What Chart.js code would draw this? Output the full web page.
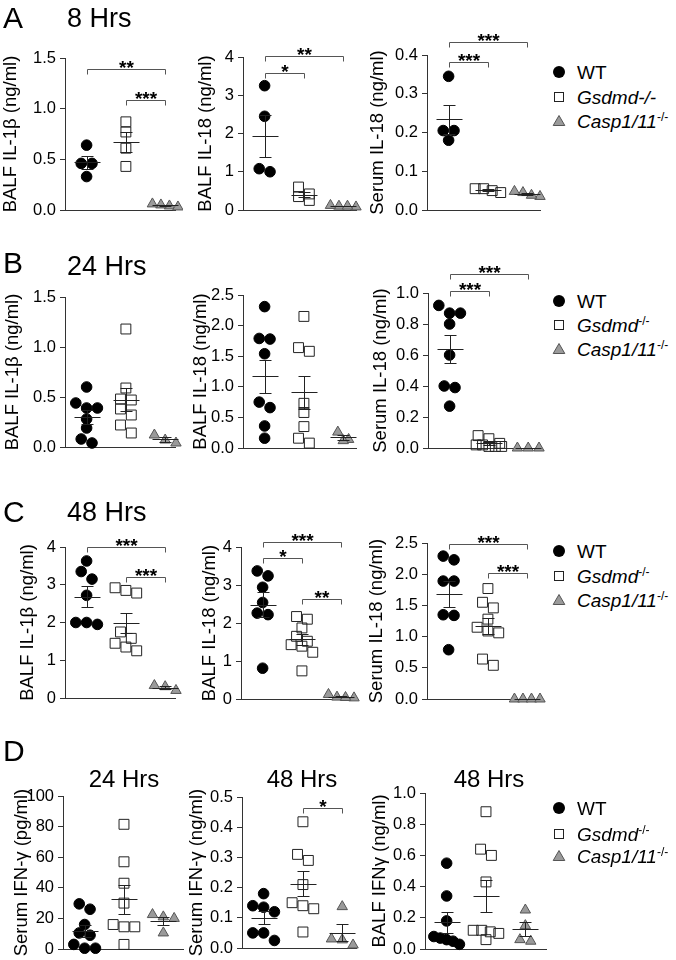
<!DOCTYPE html>
<html>
<head>
<meta charset="utf-8">
<script src="https://cdn.jsdelivr.net/npm/chart.js@4"></script>
<style>
  body { margin: 0; background: #fff; }
  #fig { position: relative; width: 676px; height: 960px; font-family: "Liberation Sans", Arial, sans-serif; color: #000; }
  #fig canvas { position: absolute; }
  .t { position: absolute; white-space: nowrap; line-height: 1; }
  .sup { font-size: 12px; position: relative; top: -7px; font-style: normal; }
</style>
</head>
<body>
<div id="fig"></div>
<script>
// groups, in plotting order
const groups = ["WT", "Gsdmd-/-", "Casp1/11-/-"];

// values per group: [WT, Gsdmd, Casp1/11]
// A: 8 Hrs
const balfIl1b8h = [[0.64, 0.46, 0.46, 0.33], [0.87, 0.77, 0.61, 0.43], [0.04, 0.03, 0.05, 0.06]];
const balfIl18_8h = [[3.25, 2.45, 1.08, 1.0], [0.6, 0.42, 0.35, 0.25], [0.08, 0.1, 0.12, 0.1]];
const serumIl18_8h = [[0.345, 0.205, 0.205, 0.18], [0.055, 0.05, 0.045, 0.055], [0.045, 0.035, 0.038, 0.048]];
// B: 24 Hrs
const balfIl1b24h = [[0.6, 0.44, 0.39, 0.39, 0.28, 0.19, 0.08, 0.04], [1.18, 0.59, 0.48, 0.47, 0.38, 0.32, 0.22, 0.14], [0.12, 0.07, 0.04]];
const balfIl18_24h = [[2.31, 1.79, 1.78, 1.54, 0.75, 0.66, 0.36, 0.16], [2.15, 1.64, 1.58, 0.73, 0.58, 0.35, 0.16, 0.08], [0.26, 0.14, 0.12]];
const serumIl18_24h = [[0.92, 0.87, 0.87, 0.8, 0.6, 0.4, 0.39, 0.27], [0.08, 0.06, 0.03, 0.02, 0.01, 0.01, 0.01, 0.02], [0, 0, 0]];
// C: 48 Hrs
const balfIl1b48h = [[3.63, 3.35, 3.15, 2.72, 2.0, 1.95, 2.0], [2.92, 2.85, 2.78, 1.75, 1.58, 1.45, 1.35, 1.25], [0.3, 0.2, 0.33]];
const balfIl18_48h = [[3.37, 3.24, 2.94, 2.54, 2.26, 2.22, 0.81], [2.17, 2.1, 1.87, 1.65, 1.52, 1.43, 1.39, 1.23, 0.74], [0.03, 0.05, 0.04, 0.12]];
const serumIl18_48h = [[2.29, 2.23, 1.89, 1.89, 1.35, 1.34, 0.79], [1.77, 1.55, 1.46, 1.28, 1.15, 1.09, 1.06, 0.64, 0.54], [0, 0, 0, 0]];
// D: IFN-gamma
const serumIfng24h = [[29.5, 26, 16, 10.5, 9, 3, 0.5, 0.5], [81.5, 57, 43, 30, 14.5, 14.5, 16, 3], [22.5, 21, 20, 10.5]];
const serumIfng48h = [[0.18, 0.135, 0.14, 0.12, 0.05, 0.05, 0.025], [0.418, 0.31, 0.29, 0.21, 0.14, 0.15, 0.13, 0.053], [0.137, 0.03, 0.027, 0.01]];
const balfIfng48h = [[0.55, 0.34, 0.18, 0.08, 0.07, 0.06, 0.05, 0.03], [0.88, 0.64, 0.6, 0.43, 0.12, 0.11, 0.1, 0.06, 0.12], [0.25, 0.15, 0.06, 0.05]];

// y tick labels per row
const ticksA = [[0, 0.5, 1, 1.5], [0, 1, 2, 3, 4], [0, 0.1, 0.2, 0.3, 0.4]];
const ticksB = [[0, 0.5, 1, 1.5], [0, 0.5, 1, 1.5, 2, 2.5], [0, 0.2, 0.4, 0.6, 0.8, 1]];
const ticksC = [[0, 1, 2, 3, 4], [0, 1, 2, 3, 4], [0, 0.5, 1, 1.5, 2, 2.5]];
const ticksD = [[0, 20, 40, 60, 80, 100], [0, 0.1, 0.2, 0.3, 0.4, 0.5], [0, 0.2, 0.4, 0.6, 0.8, 1]];

const titlesABC = ["BALF IL-1β (ng/ml)", "BALF IL-18 (ng/ml)", "Serum IL-18 (ng/ml)"];
const titlesD = ["Serum IFN-γ (pg/ml)", "Serum IFN-γ (ng/ml)", "BALF IFNγ (ng/ml)"];

// layout of each plot (page pixels) + significance brackets
const panels = [
  { data: balfIl1b8h, ticks: ticksA[0], title: titlesABC[0], left: 0, axisX: 65, top: 58, bottom: 210, right: 177,
    brackets: [{ a: 1, b: 3, y: 1.394, t: "**" }, { a: 2, b: 3, y: 1.087, t: "***" }] },
  { data: balfIl18_8h, ticks: ticksA[1], title: titlesABC[1], left: 195, axisX: 243, top: 57, bottom: 210, right: 358,
    brackets: [{ a: 1, b: 3, y: 4.03, t: "**" }, { a: 1, b: 2, y: 3.58, t: "*" }] },
  { data: serumIl18_8h, ticks: ticksA[2], title: titlesABC[2], left: 367, axisX: 427, top: 55, bottom: 210, right: 542,
    brackets: [{ a: 1, b: 3, y: 0.434, t: "***" }, { a: 1, b: 2, y: 0.382, t: "***" }] },
  { data: balfIl1b24h, ticks: ticksB[0], title: titlesABC[0], left: 2, axisX: 65, top: 297, bottom: 447, right: 177, brackets: [] },
  { data: balfIl18_24h, ticks: ticksB[1], title: titlesABC[1], left: 190, axisX: 243, top: 295, bottom: 448, right: 358, brackets: [] },
  { data: serumIl18_24h, ticks: ticksB[2], title: titlesABC[2], left: 370, axisX: 428, top: 293, bottom: 448, right: 542,
    brackets: [{ a: 1, b: 3, y: 1.12, t: "***" }, { a: 1, b: 2, y: 1.015, t: "***" }] },
  { data: balfIl1b48h, ticks: ticksC[0], title: titlesABC[0], left: 17, axisX: 65, top: 547, bottom: 698, right: 177,
    brackets: [{ a: 1, b: 3, y: 4.0, t: "***" }, { a: 2, b: 3, y: 3.2, t: "***" }] },
  { data: balfIl18_48h, ticks: ticksC[1], title: titlesABC[1], left: 199, axisX: 241, top: 547, bottom: 699, right: 358,
    brackets: [{ a: 1, b: 3, y: 4.12, t: "***" }, { a: 1, b: 2, y: 3.72, t: "*" }, { a: 2, b: 3, y: 2.62, t: "**" }] },
  { data: serumIl18_48h, ticks: ticksC[2], title: titlesABC[2], left: 366, axisX: 427, top: 543, bottom: 699, right: 542,
    brackets: [{ a: 1, b: 3, y: 2.48, t: "***" }, { a: 2, b: 3, y: 2.02, t: "***" }] },
  { data: serumIfng24h, ticks: ticksD[0], title: titlesD[0], left: 11, axisX: 63, top: 796, bottom: 949, right: 185, brackets: [] },
  { data: serumIfng48h, ticks: ticksD[1], title: titlesD[1], left: 186, axisX: 242, top: 797, bottom: 948, right: 358,
    brackets: [{ a: 2, b: 3, y: 0.464, t: "*" }] },
  { data: balfIfng48h, ticks: ticksD[2], title: titlesD[2], left: 369, axisX: 425, top: 793, bottom: 949, right: 548, brackets: [] },
];

const FONT = '"Liberation Sans", Arial, sans-serif';
Chart.defaults.font.family = FONT;
Chart.defaults.color = "#000";

const styles = [
  { pointStyle: "circle", radius: 5.3, backgroundColor: "#000", borderColor: "#000" },
  { pointStyle: "rect", radius: 7, backgroundColor: "rgba(255,255,255,0)", borderColor: "#222" },
  { pointStyle: "triangle", radius: 6, backgroundColor: "#9a9a9a", borderColor: "#555" },
];

const PX_PER_X = 40;

// spread points that share a value sideways, like a column scatter plot
function swarm(vals, cat, yMin, yMax, plotH) {
  const pxY = plotH / (yMax - yMin);
  const order = vals.map((v, i) => i).sort((a, b) => vals[b] - vals[a]);
  const rows = [];
  order.forEach(i => {
    const row = rows[rows.length - 1];
    if (row && (vals[row[0]] - vals[i]) * pxY < 8) row.push(i);
    else rows.push([i]);
  });
  const pts = [];
  rows.forEach(row => {
    const step = row.length > 1 ? Math.min(11, 26 / (row.length - 1)) : 0;
    row.forEach((i, k) => {
      pts[i] = { x: cat + (k - (row.length - 1) / 2) * step / PX_PER_X, y: vals[i] };
    });
  });
  return pts;
}

// mean +/- SEM and significance brackets
const meanSem = {
  id: "meanSem",
  afterDatasetsDraw(chart, args, opts) {
    const { ctx } = chart;
    const x = chart.scales.x, y = chart.scales.y;
    const seg = (x1, y1, x2, y2) => {
      ctx.beginPath();
      ctx.moveTo(x1, y1);
      ctx.lineTo(x2, y2);
      ctx.stroke();
    };
    ctx.save();
    ctx.lineWidth = 1;
    ctx.strokeStyle = "#222";
    chart.data.datasets.forEach((ds, g) => {
      const v = ds.data.map(p => p.y);
      const n = v.length;
      const m = v.reduce((a, b) => a + b, 0) / n;
      const sd = Math.sqrt(v.reduce((a, b) => a + (b - m) * (b - m), 0) / (n - 1));
      const se = sd / Math.sqrt(n);
      const cx = Math.round(x.getPixelForValue(g + 1)) + 0.5;
      const ym = Math.round(y.getPixelForValue(m)) + 0.5;
      const yt = Math.round(y.getPixelForValue(m + se)) + 0.5;
      const yb = Math.round(y.getPixelForValue(m - se)) + 0.5;
      seg(cx - 13, ym, cx + 13, ym);
      seg(cx, yt, cx, yb);
      seg(cx - 6, yt, cx + 6, yt);
      seg(cx - 6, yb, cx + 6, yb);
    });
    ctx.strokeStyle = "#555";
    ctx.fillStyle = "#000";
    ctx.font = "bold 19px " + FONT;
    ctx.textAlign = "center";
    ctx.textBaseline = "alphabetic";
    (opts.brackets || []).forEach(b => {
      const x1 = Math.round(x.getPixelForValue(b.a)) + 0.5;
      const x2 = Math.round(x.getPixelForValue(b.b)) + 0.5;
      const yy = Math.round(y.getPixelForValue(b.y)) + 0.5;
      ctx.beginPath();
      ctx.moveTo(x1, yy + 5);
      ctx.lineTo(x1, yy);
      ctx.lineTo(x2, yy);
      ctx.lineTo(x2, yy + 5);
      ctx.stroke();
      ctx.fillText(b.t, (x1 + x2) / 2, yy + 4);
    });
    ctx.restore();
  }
};

const fig = document.getElementById("fig");
const PT = 45, PR = 6, PB = 14;

panels.forEach(p => {
  const L = p.left, T = p.top - PT;
  const W = p.right - L + PR, H = p.bottom - T + PB;
  const canvas = document.createElement("canvas");
  canvas.width = W;
  canvas.height = H;
  canvas.style.left = L + "px";
  canvas.style.top = T + "px";
  canvas.style.width = W + "px";
  canvas.style.height = H + "px";
  fig.appendChild(canvas);

  const yMin = p.ticks[0], yMax = p.ticks[p.ticks.length - 1];
  const dec = p.ticks.some(v => !Number.isInteger(v)) ? 1 : 0;
  const xMin = 0.45, xMax = xMin + (p.right - p.axisX) / PX_PER_X;

  new Chart(canvas, {
    type: "scatter",
    data: {
      datasets: p.data.map((vals, g) => ({
        label: groups[g],
        data: swarm(vals, g + 1, yMin, yMax, p.bottom - p.top),
        pointStyle: styles[g].pointStyle,
        pointRadius: styles[g].radius,
        pointBackgroundColor: styles[g].backgroundColor,
        pointBorderColor: styles[g].borderColor,
        pointBorderWidth: 1,
        clip: false,
      })),
    },
    options: {
      responsive: false,
      animation: false,
      devicePixelRatio: 1,
      events: [],
      layout: { padding: { top: PT, right: PR, bottom: PB, left: 0 } },
      plugins: {
        legend: { display: false },
        tooltip: { enabled: false },
        meanSem: { brackets: p.brackets },
      },
      scales: {
        x: {
          type: "linear",
          min: xMin,
          max: xMax,
          ticks: { display: false },
          grid: { display: false },
          border: { display: true, color: "#333", width: 1 },
          afterFit: s => { s.height = 0; },
        },
        y: {
          type: "linear",
          min: yMin,
          max: yMax,
          afterBuildTicks: s => { s.ticks = p.ticks.map(v => ({ value: v })); },
          ticks: {
            autoSkip: false,
            padding: 4,
            color: "#000",
            font: { size: 16.5 },
            callback: v => Number(v).toFixed(dec),
          },
          grid: { drawOnChartArea: false, drawTicks: true, tickLength: 5, color: "#333" },
          border: { display: true, color: "#333", width: 1 },
          title: { display: true, text: p.title, color: "#000", font: { size: 18.5 }, padding: 0 },
          afterFit: s => { s.width = p.axisX - L; },
        },
      },
    },
    plugins: [meanSem],
  });
});

// panel letters, time labels, legends as html text
function addText(html, left, top, size, extra) {
  const d = document.createElement("div");
  d.className = "t";
  d.style.left = left + "px";
  d.style.top = top + "px";
  d.style.fontSize = size + "px";
  if (extra) Object.assign(d.style, extra);
  d.innerHTML = html;
  fig.appendChild(d);
}

const letters = [["A", 17], ["B", 262], ["C", 511], ["D", 750]];
letters.forEach(([s, y]) => addText(s, 3, y - 14.5, 30));
const rowTitles = [["8 Hrs", 18], ["24 Hrs", 266], ["48 Hrs", 512]];
rowTitles.forEach(([s, y]) => addText(s, 67, y - 13, 27));
const dTitles = [["24 Hrs", 124], ["48 Hrs", 302], ["48 Hrs", 489]];
dTitles.forEach(([s, x]) => addText(s, x - 50, 779 - 12, 24, { width: "100px", textAlign: "center" }));

const markers = [
  '<svg width="14" height="14"><circle cx="7" cy="7" r="6" fill="#000"/></svg>',
  '<svg width="14" height="14"><rect x="2.5" y="2.5" width="9" height="9" fill="none" stroke="#222"/></svg>',
  '<svg width="14" height="14"><polygon points="7,1.5 12.8,11.5 1.2,11.5" fill="#9a9a9a" stroke="#555"/></svg>',
];
const legendRows = [[72, 97, 121], [301, 325, 349], [551, 576, 600], [808, 834, 856]];
legendRows.forEach((ys, r) => {
  const labels = [
    "WT",
    r === 0 ? "<i>Gsdmd-/-</i>" : '<i>Gsdmd</i><span class="sup">-/-</span>',
    '<i>Casp1/11</i><span class="sup">-/-</span>',
  ];
  ys.forEach((y, k) => {
    addText(markers[k], 552, y - 7, 14);
    addText(labels[k], 577, y - 9.5, 19);
  });
});
</script>
</body>
</html>
